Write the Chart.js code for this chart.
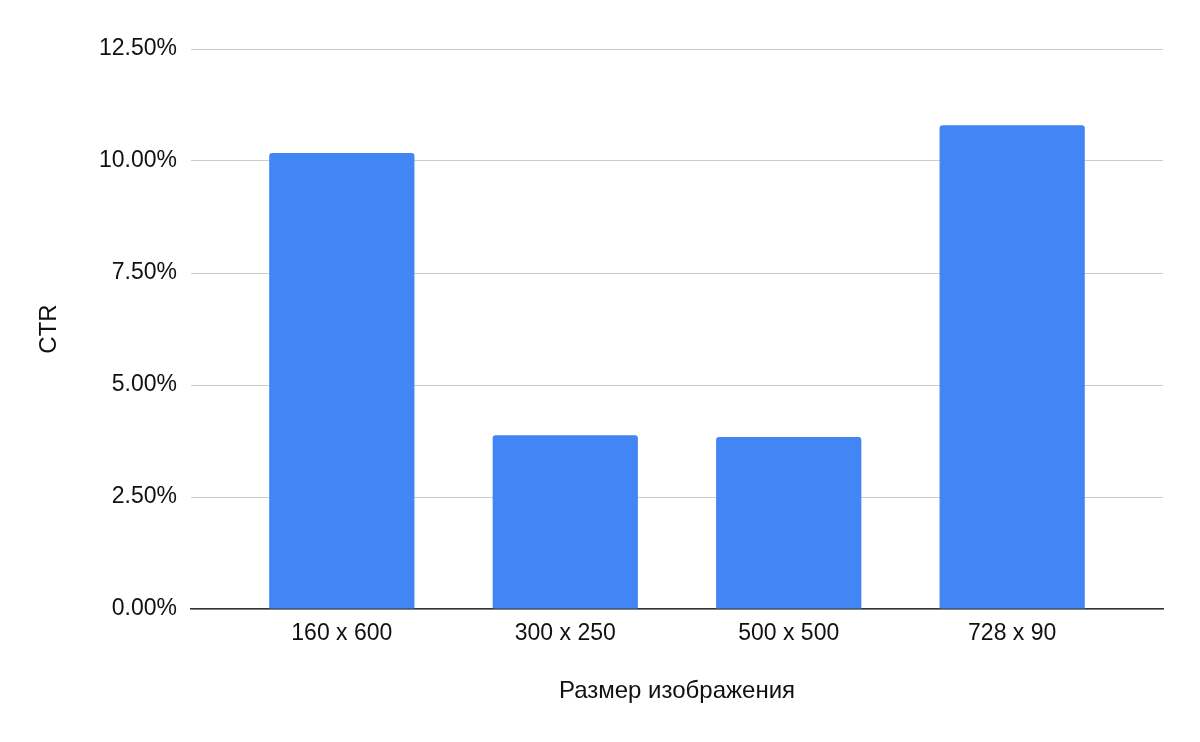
<!DOCTYPE html>
<html>
<head>
<meta charset="utf-8">
<script src="https://cdn.jsdelivr.net/npm/chart.js@4"></script>
<style>
  html, body { margin: 0; padding: 0; background: #fff; }
  #wrap { width: 1200px; height: 742px; }
</style>
</head>
<body>
<div id="wrap"><canvas id="ctr-canvas" width="1200" height="742"></canvas></div>
<script>
// values
let sizeLabels = ["160 x 600", "300 x 250", "500 x 500", "728 x 90"];
let ctrValues = [10.18, 3.88, 3.84, 10.80];
let yTickMax = 12.5;
let yTickStep = 2.5;

let ctx = document.getElementById("ctr-canvas").getContext("2d");
let fontFamily = "'Liberation Sans', Arial, sans-serif";
let textSize = 23;
let titleSize = 24;
let textColor = "#111";

// x is a linear index axis so the outer gaps can be wider than half a slot
let points = ctrValues.map(function (v, i) { return { x: i, y: v }; });

new Chart(ctx, {
  type: "bar",
  data: {
    datasets: [
      {
        label: "CTR",
        data: points,
        backgroundColor: "#4285f4",
        borderRadius: { topLeft: 3, topRight: 3 },
        borderSkipped: "bottom",
        barPercentage: 0.65,
        categoryPercentage: 1,
      },
    ],
  },
  options: {
    responsive: false,
    animation: false,
    layout: { padding: { top: 49, right: 37, bottom: 0, left: 0 } },
    plugins: { legend: { display: false }, tooltip: { enabled: false } },
    scales: {
      x: {
        type: "linear",
        min: -0.675,
        max: sizeLabels.length - 1 + 0.675,
        offset: false,
        grid: { display: false, drawTicks: false },
        border: { display: true, color: "#333", width: 1.5 },
        ticks: {
          stepSize: 1,
          color: textColor,
          font: { family: fontFamily, size: textSize },
          padding: 11,
          maxRotation: 0,
          callback: function (v) { return sizeLabels[v] || ""; },
        },
        afterBuildTicks: function (scale) {
          scale.ticks = scale.ticks.filter(function (t) { return Number.isInteger(t.value); });
        },
        title: {
          display: true,
          text: "Размер изображения",
          color: textColor,
          font: { family: fontFamily, size: titleSize },
          padding: { top: 0, bottom: 36 },
        },
        afterFit: function (scale) { scale.height = 742 - 609; },
      },
      y: {
        min: 0,
        max: yTickMax,
        grid: { color: "#cccccc", drawTicks: false, lineWidth: 1 },
        border: { display: false },
        ticks: {
          stepSize: yTickStep,
          color: textColor,
          font: { family: fontFamily, size: textSize },
          padding: 14,
          callback: function (v) { return v.toFixed(2) + "%"; },
        },
        title: {
          display: true,
          text: "CTR",
          color: textColor,
          font: { family: fontFamily, size: titleSize },
          padding: { top: 35, bottom: 0 },
        },
        afterFit: function (scale) { scale.width = 191; },
      },
    },
  },
});
</script>
</body>
</html>
